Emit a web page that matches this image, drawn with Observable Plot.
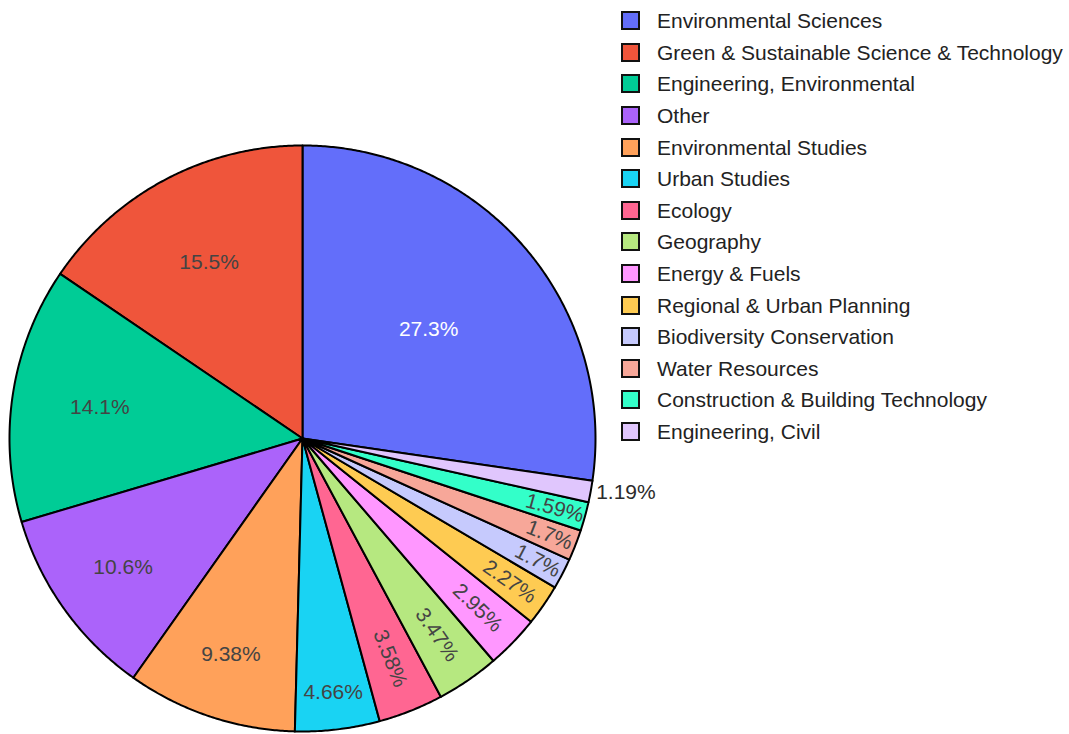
<!DOCTYPE html>
<html><head><meta charset="utf-8">
<script src="https://cdn.jsdelivr.net/npm/d3@7"></script>
<script src="https://cdn.jsdelivr.net/npm/@observablehq/plot@0.6"></script>
<style>
body{margin:0;background:#fff;font-family:"Liberation Sans",Arial,sans-serif;}
#wrap{position:relative;width:1069px;height:734px;overflow:hidden}
#chart{position:absolute;left:0;top:0}
#legend{position:absolute;left:621px;top:5px}
.row{display:flex;align-items:center;height:31.6px}
.sw{width:15px;height:15px;border:2px solid #111;box-sizing:content-box;margin-right:17px;flex:none}
.lab{font-size:21px;color:#222;white-space:nowrap;line-height:1}
</style></head><body><div id="wrap"><div id="chart"></div><div id="legend"></div></div>
<script>
const categories = [
  "Environmental Sciences",
  "Green & Sustainable Science & Technology",
  "Engineering, Environmental",
  "Other",
  "Environmental Studies",
  "Urban Studies",
  "Ecology",
  "Geography",
  "Energy & Fuels",
  "Regional & Urban Planning",
  "Biodiversity Conservation",
  "Water Resources",
  "Construction & Building Technology",
  "Engineering, Civil"
];
const shares = [27.3, 15.5, 14.1, 10.6, 9.38, 4.66, 3.58, 3.47, 2.95, 2.27, 1.7, 1.7, 1.59, 1.19];
const shareLabels = ["27.3%", "15.5%", "14.1%", "10.6%", "9.38%", "4.66%", "3.58%", "3.47%", "2.95%", "2.27%", "1.7%", "1.7%", "1.59%", "1.19%"];
const colors = ["#636efa", "#ef553b", "#00cc96", "#ab63fa", "#ffa15a", "#19d3f3", "#ff6692", "#b6e880", "#ff97ff", "#fecb52", "#c6cafd", "#f7a799", "#33ffc9", "#e0c6fd"];

// layout (pixels)
const W = 1069, H = 734, CX = 302, CY = 438, R = 293;
const FONT = 21, TEXT_H = 22, TEXTPAD = 3;
const fontFamily = "'Liberation Sans', Arial, sans-serif";

const total = d3.sum(shares);
const deg = Math.PI / 180;
// slices go counter-clockwise, first slice ending at 12 o'clock; theta measured clockwise from top
let a = shares[0] / total * 360;
const slices = shares.map((v, i) => {
  const span = v / total * 360;
  const s = {cat: categories[i], label: shareLabels[i], color: colors[i], start: a, end: a - span, span};
  a -= span;
  return s;
});

// slice polygons
const pts = [];
for (const s of slices) {
  pts.push({cat: s.cat, x: 0, y: 0});
  const n = Math.max(2, Math.ceil(s.span / 0.4));
  for (let k = 0; k <= n; k++) {
    const t = (s.start - s.span * k / n) * deg;
    pts.push({cat: s.cat, x: Math.sin(t), y: Math.cos(t)});
  }
  pts.push({cat: s.cat, x: 0, y: 0});
}

// text measurement
const ctx = document.createElement("canvas").getContext("2d");
ctx.font = `${FONT}px ${fontFamily}`;
const brightness = c => { const r = d3.rgb(c); return (r.r * 299 + r.g * 587 + r.b * 114) / 1000; };
const norm180 = d => (((d + 90) % 180) + 180) % 180 - 90;
function maxHalf(aa, half, r) {
  const q = aa + 1 / (2 * Math.tan(half));
  return r * Math.min(1 / (Math.sqrt(q * q + 0.5) + q), 1 / (Math.sqrt(aa * aa + 0.5) + aa));
}

const labels = slices.map(s => {
  const w = ctx.measureText(s.label).width, h = TEXT_H;
  const mid = (s.start + s.end) / 2;
  const half = s.span / 2 * deg;
  const sx = Math.sin(mid * deg), sy = Math.cos(mid * deg);
  const inner = brightness(s.color) < 128 ? "#ffffff" : "#444444";
  const rIns = Math.min(Math.sin(half) / (1 + Math.sin(half)), 0.5);
  const hScale = rIns * R * 2 / Math.hypot(w, h);
  if (hScale >= 1) {
    const rc = 1 - rIns;
    return {text: s.label, x: rc * sx, y: rc * sy, rotate: 0, fill: inner};
  }
  const r = R - 2 * TEXTPAD;
  const aRad = w / h, sRad = maxHalf(aRad, half, r);
  const rad = {scale: sRad * 2 / h, rc: Math.cos(sRad / r) - aRad * sRad / r, rot: norm180(mid - 90)};
  const aTan = h / w, sTan = maxHalf(aTan, half, r);
  const tan = {scale: sTan * 2 / w, rc: Math.cos(sTan / r) - aTan * sTan / r, rot: norm180(mid)};
  const best = rad.scale >= tan.scale ? rad : tan;
  if (best.scale >= 1) {
    return {text: s.label, x: best.rc * sx, y: best.rc * sy, rotate: best.rot, fill: inner};
  }
  // outside
  const px = R * sx, py = -R * sy;
  let dx = w / 2, dy = h / 2;
  if (px < 0) dx = -dx;
  if (py < 0) dy = -dy;
  const ox = dx + Math.abs(dy) * (dx > 0 ? 1 : -1) / 2;
  const oy = dy / (1 + px * px / (py * py));
  return {text: s.label, x: (px + ox) / R, y: -(py + oy) / R, rotate: 0, fill: "#2b2b2b"};
});

const chart = Plot.plot({
  width: W, height: H,
  marginLeft: CX - R, marginRight: W - (CX + R), marginTop: CY - R, marginBottom: H - (CY + R),
  x: {domain: [-1, 1], axis: null},
  y: {domain: [-1, 1], axis: null},
  color: {domain: categories, range: colors},
  style: {fontFamily, background: "transparent", overflow: "visible"},
  marks: [
    Plot.line(pts, {x: "x", y: "y", z: "cat", fill: "cat", stroke: "#000", strokeWidth: 2, strokeLinejoin: "round", curve: "linear"}),
    Plot.text(labels, {x: "x", y: "y", text: "text", rotate: "rotate", fill: "fill", fontSize: FONT, textAnchor: "middle", lineAnchor: "middle", fontFamily})
  ]
});
document.getElementById("chart").appendChild(chart);

const leg = document.getElementById("legend");
categories.forEach((c, i) => {
  const row = document.createElement("div");
  row.className = "row";
  const sw = document.createElement("div");
  sw.className = "sw";
  sw.style.background = colors[i];
  const lab = document.createElement("div");
  lab.className = "lab";
  lab.textContent = c;
  row.appendChild(sw); row.appendChild(lab);
  leg.appendChild(row);
});
</script>
</body></html>
